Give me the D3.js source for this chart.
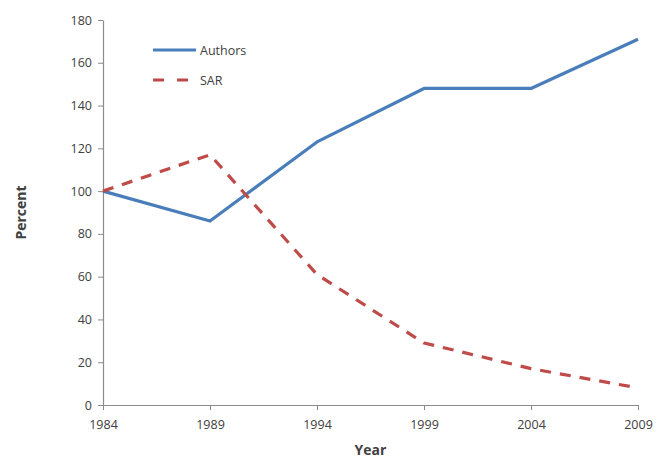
<!DOCTYPE html>
<html>
<head>
<meta charset="utf-8">
<script src="https://cdn.jsdelivr.net/npm/d3@7"></script>
<style>
  body { margin: 0; background: #fff; overflow: hidden; }
  svg text { font-family: "Open Sans", "Liberation Sans", sans-serif; fill: #404040; }
</style>
</head>
<body>
<svg id="chart" width="657" height="461"></svg>
<script>
// Index of authors and SAR, 1984 = 100
const years = [1984, 1989, 1994, 1999, 2004, 2009];
const authors = [100, 86, 123, 148, 148, 171];
const sar = [100, 117, 61, 29, 17, 8];
const yTicks = [0, 20, 40, 60, 80, 100, 120, 140, 160, 180];
const seriesNames = ["Authors", "SAR"];

const svg = d3.select("#chart");
const margin = { left: 103, right: 19, top: 20, bottom: 56 };
const W = 657, H = 461;

const x = d3.scaleLinear().domain([1984, 2009]).range([margin.left, W - margin.right]);
const y = d3.scaleLinear().domain([0, 180]).range([H - margin.bottom, margin.top]);

// Axes
const xAxis = svg.append("g")
  .attr("transform", `translate(0,${y(0)})`)
  .call(d3.axisBottom(x).tickValues(years).tickFormat(d3.format("d")).tickSize(5).tickSizeOuter(0));
const yAxis = svg.append("g")
  .attr("transform", `translate(${x(1984)},0)`)
  .call(d3.axisLeft(y).tickValues(yTicks).tickSize(5).tickSizeOuter(0));

[xAxis, yAxis].forEach(g => {
  g.select(".domain").attr("stroke", "#8c8c8c").attr("stroke-width", 1.2);
  g.selectAll(".tick line").attr("stroke", "#8c8c8c");
  g.selectAll(".tick text").attr("font-size", 12.5).attr("fill", "#404040")
    .style("font-family", '"Open Sans", "Liberation Sans", sans-serif');
});
xAxis.selectAll(".tick text").attr("dy", "1.3em");
yAxis.selectAll(".tick text").attr("x", -11);

// Axis titles
svg.append("text")
  .attr("x", (x(1984) + x(2009)) / 2)
  .attr("y", 455)
  .attr("text-anchor", "middle")
  .attr("font-size", 14)
  .attr("font-weight", "bold")
  .attr("fill", "#222")
  .text("Year");
svg.append("text")
  .attr("transform", `translate(26,${(y(0) + y(180)) / 2}) rotate(-90)`)
  .attr("text-anchor", "middle")
  .attr("font-size", 14)
  .attr("font-weight", "bold")
  .attr("fill", "#222")
  .text("Percent");

// Lines
const colors = ["#4a7ebb", "#be4b48"];
const dashes = [null, "11,9"];
const line = d3.line().x(d => x(d[0])).y(d => y(d[1]));
[authors, sar].forEach((vals, i) => {
  svg.append("path")
    .datum(years.map((yr, j) => [yr, vals[j]]))
    .attr("fill", "none")
    .attr("stroke", colors[i])
    .attr("stroke-width", 3.2)
    .attr("stroke-linejoin", "round")
    .attr("stroke-dasharray", dashes[i])
    .attr("d", line);
});

// Legend
const legend = svg.append("g").attr("transform", "translate(153,50)");
seriesNames.forEach((name, i) => {
  const row = legend.append("g").attr("transform", `translate(0,${i * 30})`);
  row.append("line")
    .attr("x1", 0).attr("x2", 43).attr("y1", 0).attr("y2", 0)
    .attr("stroke", colors[i])
    .attr("stroke-width", 3.2)
    .attr("stroke-dasharray", dashes[i] ? "11,13" : null);
  row.append("text")
    .attr("x", 47).attr("y", 4.5)
    .attr("font-size", 12.5)
    .text(name);
});
</script>
</body>
</html>
